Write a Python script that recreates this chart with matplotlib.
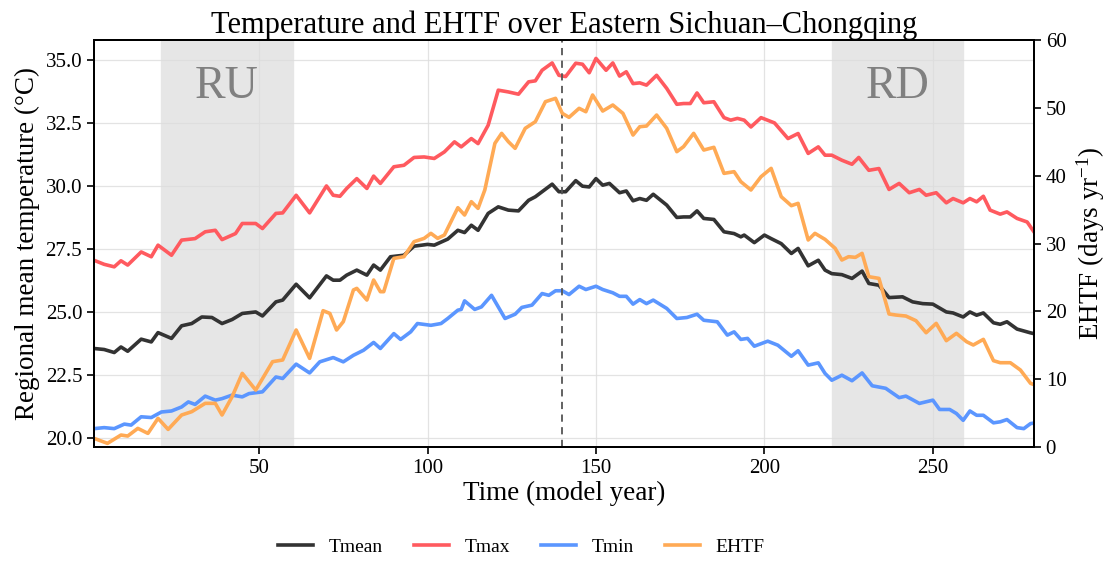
import numpy as np
import matplotlib
matplotlib.use("Agg")
import matplotlib.pyplot as plt

plt.rcParams['font.family'] = ['Liberation Serif', 'DejaVu Serif']
plt.rcParams['mathtext.default'] = 'regular'

# Values (model year, value)
tmax_year = [1, 4, 7, 9, 11, 15, 18, 20, 24, 27, 31, 34, 37, 39, 43, 45, 49, 51, 55, 57,
             61, 65, 70, 72, 74, 76, 79, 82, 84, 86, 90, 93, 96, 99, 102, 105, 108, 110,
             113, 115, 118, 121, 124, 127, 130, 132, 134, 137, 139, 141, 144, 146, 148,
             150, 153, 155, 157, 159, 161, 163, 165, 168, 171, 174, 176, 178, 180, 182,
             185, 188, 190, 192, 194, 196, 199, 203, 207, 210, 213, 216, 218, 220, 223,
             226, 228, 231, 234, 237, 240, 243, 246, 248, 251, 254, 256, 259, 261, 263,
             265, 267, 270, 272, 275, 278, 280]
tmax = [27.06, 26.90, 26.80, 27.04, 26.87, 27.39, 27.20, 27.66, 27.26, 27.86, 27.92, 28.19,
        28.25, 27.88, 28.12, 28.52, 28.52, 28.32, 28.92, 28.94, 29.64, 28.94, 30.01, 29.64,
        29.60, 29.91, 30.30, 29.91, 30.40, 30.11, 30.77, 30.83, 31.14, 31.16, 31.10, 31.36,
        31.76, 31.56, 31.89, 31.69, 32.42, 33.81, 33.74, 33.65, 34.14, 34.18, 34.60, 34.89,
        34.40, 34.35, 34.88, 34.84, 34.50, 35.07, 34.60, 34.89, 34.37, 34.54, 34.07, 34.10,
        34.01, 34.40, 33.88, 33.25, 33.28, 33.28, 33.70, 33.31, 33.35, 32.72, 32.62, 32.69,
        32.62, 32.35, 32.72, 32.51, 31.89, 32.09, 31.30, 31.56, 31.23, 31.23, 31.03, 30.87,
        31.14, 30.63, 30.70, 29.87, 30.11, 29.74, 29.87, 29.64, 29.74, 29.34, 29.51, 29.34,
        29.51, 29.38, 29.60, 29.05, 28.89, 28.98, 28.72, 28.58, 28.19]

tmean_year = [1, 4, 7, 9, 11, 15, 18, 20, 24, 27, 30, 33, 36, 39, 42, 45, 49, 51, 55, 57,
              61, 65, 70, 72, 74, 76, 79, 82, 84, 86, 89, 93, 96, 100, 102, 106, 109, 111,
              113, 115, 118, 121, 124, 127, 130, 132, 135, 137, 139, 141, 144, 146, 148,
              150, 152, 154, 157, 159, 161, 163, 165, 167, 171, 174, 176, 178, 180, 182,
              185, 188, 191, 193, 194, 197, 200, 202, 205, 208, 210, 213, 216, 218, 220,
              223, 226, 229, 231, 234, 237, 241, 244, 247, 250, 254, 256, 259, 261, 263,
              265, 268, 270, 272, 275, 279, 280]
tmean = [23.56, 23.52, 23.40, 23.62, 23.45, 23.93, 23.82, 24.19, 23.96, 24.46, 24.55, 24.81,
         24.79, 24.55, 24.71, 24.95, 25.01, 24.85, 25.41, 25.48, 26.11, 25.57, 26.44, 26.27,
         26.27, 26.47, 26.67, 26.47, 26.87, 26.67, 27.20, 27.26, 27.62, 27.69, 27.66, 27.90,
         28.25, 28.16, 28.45, 28.25, 28.92, 29.18, 29.05, 29.02, 29.44, 29.58, 29.88, 30.08,
         29.78, 29.78, 30.22, 30.00, 29.97, 30.30, 30.04, 30.11, 29.74, 29.81, 29.42, 29.51,
         29.44, 29.68, 29.25, 28.76, 28.78, 28.78, 29.02, 28.72, 28.68, 28.19, 28.12, 27.99,
         28.06, 27.76, 28.06, 27.92, 27.72, 27.33, 27.53, 26.84, 27.06, 26.67, 26.53, 26.49,
         26.34, 26.63, 26.14, 26.07, 25.58, 25.61, 25.41, 25.34, 25.32, 25.01, 24.97, 24.81,
         25.01, 24.88, 24.97, 24.58, 24.52, 24.62, 24.33, 24.18, 24.15]

tmin_year = [1, 4, 7, 10, 12, 15, 18, 21, 24, 27, 29, 31, 34, 37, 39, 42, 45, 47, 51, 55,
             57, 61, 65, 68, 72, 75, 78, 81, 84, 86, 90, 92, 95, 97, 101, 104, 106, 109,
             110, 111, 114, 116, 119, 123, 126, 128, 131, 134, 136, 138, 140, 142, 145,
             147, 150, 152, 155, 157, 159, 161, 163, 165, 167, 171, 174, 177, 180, 182,
             186, 189, 191, 193, 195, 197, 201, 204, 208, 210, 213, 216, 218, 220, 223,
             226, 229, 232, 236, 240, 242, 246, 250, 252, 255, 257, 259, 261, 263, 265,
             268, 270, 272, 275, 277, 279, 280]
tmin = [20.38, 20.42, 20.38, 20.56, 20.52, 20.85, 20.82, 21.04, 21.08, 21.24, 21.44, 21.34,
        21.67, 21.51, 21.57, 21.71, 21.64, 21.77, 21.84, 22.43, 22.37, 22.94, 22.59, 23.03,
        23.20, 23.03, 23.29, 23.49, 23.80, 23.56, 24.15, 23.92, 24.22, 24.55, 24.48, 24.55,
        24.75, 25.08, 25.11, 25.45, 25.11, 25.21, 25.67, 24.75, 24.92, 25.19, 25.28, 25.74,
        25.67, 25.85, 25.85, 25.70, 26.03, 25.90, 26.03, 25.90, 25.77, 25.63, 25.63, 25.32,
        25.50, 25.34, 25.48, 25.15, 24.75, 24.79, 24.92, 24.68, 24.62, 24.09, 24.22, 23.92,
        23.96, 23.65, 23.85, 23.69, 23.25, 23.47, 22.90, 22.99, 22.57, 22.30, 22.50, 22.28,
        22.59, 22.08, 21.98, 21.61, 21.67, 21.38, 21.51, 21.14, 21.14, 20.98, 20.71, 21.08,
        20.91, 20.91, 20.61, 20.65, 20.74, 20.42, 20.38, 20.58, 20.60]

ehtf_year = [1, 5, 9, 11, 14, 17, 20, 23, 27, 30, 34, 37, 39, 42, 45, 49, 54, 57, 61, 65,
             69, 71, 73, 75, 78, 79, 82, 84, 86, 87, 90, 93, 96, 99, 101, 103, 105, 109,
             111, 113, 115, 117, 120, 122, 124, 126, 129, 132, 135, 138, 140, 142, 145,
             147, 149, 152, 155, 158, 161, 163, 165, 168, 171, 174, 176, 179, 182, 185,
             188, 191, 193, 196, 199, 202, 205, 208, 210, 213, 215, 218, 221, 223, 225,
             227, 229, 231, 234, 237, 239, 242, 245, 248, 251, 254, 257, 260, 262, 265,
             268, 270, 273, 276, 279, 280]
ehtf = [1.28, 0.54, 1.77, 1.62, 2.75, 2.01, 4.23, 2.60, 4.72, 5.21, 6.44, 6.44, 4.72, 7.42,
        10.86, 8.40, 12.58, 12.83, 17.25, 13.07, 20.10, 19.70, 17.25, 18.48, 23.15, 23.39,
        21.67, 24.62, 22.90, 22.90, 27.81, 28.06, 30.27, 30.76, 31.50, 30.76, 31.25, 35.28,
        34.20, 36.17, 35.18, 37.89, 44.77, 46.24, 45.01, 44.03, 46.98, 47.96, 50.91, 51.40,
        49.19, 48.60, 49.93, 49.43, 51.89, 49.53, 50.42, 49.19, 45.99, 47.22, 47.32, 48.94,
        46.98, 43.54, 44.28, 46.24, 43.78, 44.18, 40.34, 40.59, 39.12, 37.89, 39.85, 41.08,
        36.90, 35.58, 35.92, 30.52, 31.50, 30.61, 29.29, 27.57, 28.06, 27.96, 28.55, 25.11,
        24.86, 19.61, 19.46, 19.31, 18.62, 16.85, 18.23, 15.68, 16.76, 15.53, 15.04, 15.87,
        12.73, 12.43, 12.43, 11.35, 9.39, 9.20]

ru_span = (21, 60)
rd_span = (220, 259)
peak_year = 140

fig = plt.figure(figsize=(11.14, 5.66), dpi=100)
ax = fig.add_axes([0.0844, 0.2102, 0.8437, 0.7191])
ax2 = ax.twinx()

ax.axvspan(*ru_span, color='#e6e6e6', zorder=0)
ax.axvspan(*rd_span, color='#e6e6e6', zorder=0)
ax.grid(True, color='#dddddd', linewidth=0.9, alpha=0.8)
ax.set_axisbelow(True)

l1, = ax.plot(tmean_year, tmean, color='#333333', lw=2.6, label='Tmean')
l2, = ax.plot(tmax_year, tmax, color='#ff5a5f', lw=2.6, label='Tmax')
l3, = ax.plot(tmin_year, tmin, color='#5b96ff', lw=2.6, label='Tmin')
l4, = ax2.plot(ehtf_year, ehtf, color='#ffaa55', lw=2.6, label='EHTF')

ax.axvline(peak_year, color='#555555', lw=1.3, ls=(0, (4, 3)), zorder=5)

ax.text(np.mean(ru_span), 0.885, 'RU', transform=ax.get_xaxis_transform(),
        ha='center', va='center', fontsize=33, color='#808080')
ax.text(np.mean(rd_span), 0.885, 'RD', transform=ax.get_xaxis_transform(),
        ha='center', va='center', fontsize=33, color='#808080')

ax.set_xlim(1, 280)
ax.set_ylim(19.65, 35.8)
ax2.set_ylim(0, 60)
ax.set_xticks([50, 100, 150, 200, 250])
ax.set_yticks([20.0, 22.5, 25.0, 27.5, 30.0, 32.5, 35.0])
ax.set_yticklabels(['20.0', '22.5', '25.0', '27.5', '30.0', '32.5', '35.0'])
ax2.set_yticks([0, 10, 20, 30, 40, 50, 60])

ax.tick_params(labelsize=15, width=1.2, length=5)
ax2.tick_params(labelsize=15, width=1.2, length=5)
for a in (ax, ax2):
    for s in a.spines.values():
        s.set_linewidth(1.4)
        s.set_color('black')

ax.set_xlabel('Time (model year)', fontsize=19.5, labelpad=2)
ax.set_ylabel('Regional mean temperature (°C)', fontsize=19.5, labelpad=4)
ax2.set_ylabel('EHTF (days yr$^{-1}$)', fontsize=19.5, labelpad=6)
ax.set_title('Temperature and EHTF over Eastern Sichuan\u2013Chongqing', fontsize=22, pad=5)

fig.legend(handles=[l1, l2, l3, l4], loc='center', bbox_to_anchor=(0.468, 0.034),
           ncol=4, frameon=False, fontsize=14, handlelength=1.8, handletextpad=0.8,
           columnspacing=1.6)

fig.savefig('out.png', dpi=100)
